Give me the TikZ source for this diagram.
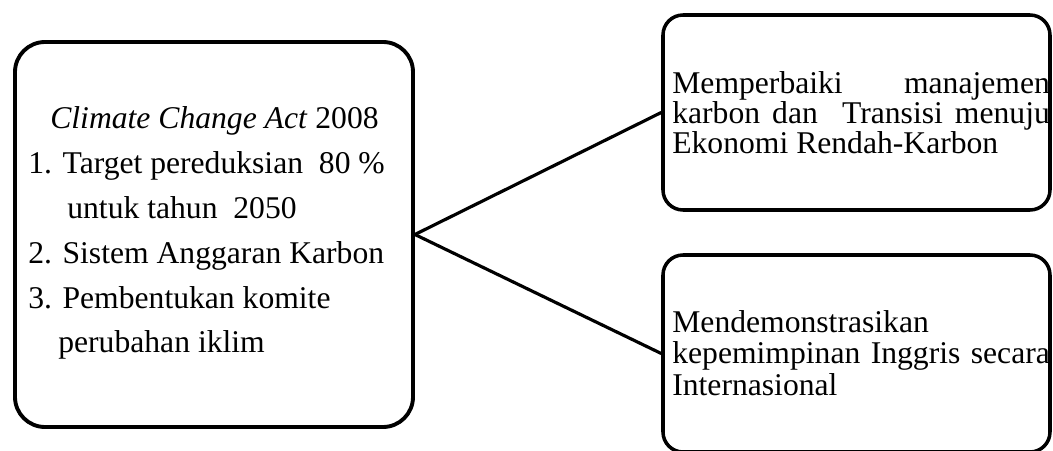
\documentclass[tikz,border=0pt]{standalone}
\usepackage{fontspec}
\setmainfont{Liberation Serif}
\tikzset{
  bigbox/.style={draw, line width=2.2pt, rounded corners=0.6cm, inner sep=0pt},
  sidebox/.style={draw, line width=2pt, rounded corners=0.4cm, inner sep=0pt, minimum width=7.74cm},
  txt/.style={inner sep=0pt, anchor=base west},
  link/.style={line width=1.8pt},
}
\begin{document}
\begin{tikzpicture}
\useasboundingbox (0,0) rectangle (21.06,9);
% boxes
\node[bigbox, minimum width=7.96cm, minimum height=7.7cm] (act) at (4.28,4.31) {};
\node[sidebox, minimum height=3.9cm] (carbon) at (17.13,6.75) {};
\node[sidebox, minimum height=3.94cm] (lead) at (17.13,1.93) {};
% texts (base = last line)
\node[txt, align=left, font=\fontsize{18}{25.6}\selectfont] (acttext) at (0.56,1.94)
  {\hspace{0.44cm}\textit{Climate Change Act} 2008\\
   1. Target pereduksian\ \ 80 \%\\
   \hspace{0.78cm}untuk tahun\ \ 2050\\
   2. Sistem Anggaran Karbon\\
   3. Pembentukan komite\\
   \hspace{0.6cm}perubahan iklim};
\node[txt, text width=7.55cm, align=justify, font=\fontsize{18}{17}\selectfont] (carbontext) at (13.44,7.12)
  {Memperbaiki manajemen karbon dan\ \ Transisi menuju Ekonomi Rendah-Karbon};
\node[txt, text width=7.55cm, align=justify, font=\fontsize{18}{18}\selectfont] (leadtext) at (13.44,2.36)
  {Mendemonstrasikan kepemimpinan Inggris secara Internasional};
% connectors
\draw[link] (act.east) -- (carbon.west);
\draw[link] (act.east) -- (lead.west);
\end{tikzpicture}
\end{document}
